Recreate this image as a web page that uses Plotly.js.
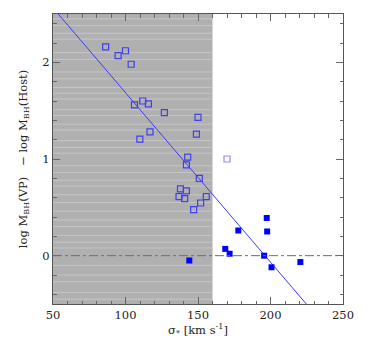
<!DOCTYPE html>
<html>
<head>
<meta charset="utf-8">
<script src="https://cdn.plot.ly/plotly-3.0.1.min.js"></script>
<style>
  html, body { margin: 0; padding: 0; background: #fff; }
  #chart { width: 374px; height: 346px; }
</style>
</head>
<body>
<div id="chart"></div>
<script>
// open squares: sample inside the shaded sigma range
const openSigma = [86.3, 100.0, 94.9, 103.9, 111.9, 115.8, 106.2, 126.8, 116.9, 109.9,
                   150.0, 148.9, 142.9, 142.0, 150.9, 137.9, 142.0, 136.9, 140.8, 155.7,
                   151.8, 147.0];
const openDiff = [2.16, 2.12, 2.07, 1.98, 1.60, 1.57, 1.56, 1.48, 1.28, 1.205,
                  1.43, 1.257, 1.02, 0.94, 0.80, 0.69, 0.67, 0.61, 0.59, 0.61,
                  0.545, 0.477];

// single light open square outside the shading
const lightSigma = [170.0];
const lightDiff = [1.0];

// filled squares
const fillSigma = [144.0, 168.8, 171.8, 177.8, 197.4, 197.7, 195.6, 200.7, 220.6];
const fillDiff = [-0.05, 0.07, 0.02, 0.26, 0.39, 0.25, 0.0, -0.12, -0.066];

// straight-line fit
const fitSigma = [53.6, 224.7];
const fitDiff = [2.5, -0.5];

// shaded sigma range
const shadeRange = [50, 160];

const font = '"DejaVu Serif", "Liberation Serif", serif';

const traces = [
  {
    x: fitSigma, y: fitDiff, type: 'scatter', mode: 'lines',
    line: {color: '#3b3bff', width: 1}, hoverinfo: 'skip'
  },
  {
    x: openSigma, y: openDiff, type: 'scatter', mode: 'markers',
    marker: {symbol: 'square-open', size: 6, color: '#4040e8', line: {width: 1.2}}
  },
  {
    x: lightSigma, y: lightDiff, type: 'scatter', mode: 'markers',
    marker: {symbol: 'square-open', size: 6, color: '#8c8cff', line: {width: 1.2}}
  },
  {
    x: fillSigma, y: fillDiff, type: 'scatter', mode: 'markers',
    marker: {symbol: 'square', size: 6, color: '#0000ff'}
  }
];

// faint horizontal stripes over the shaded band (decoration)
const stripeY = [-0.45, -0.38, -0.27, -0.2, -0.1, 0.08, 0.14, 0.21, 0.3, 0.37, 0.46, 0.55,
                 0.63, 0.72, 0.78, 0.86, 0.93, 1.06, 1.12, 1.19, 1.3, 1.36, 1.45, 1.51,
                 1.62, 1.68, 1.74, 1.83, 1.9, 2.03, 2.1, 2.24, 2.3, 2.38, 2.45];

const shapes = [
  {
    type: 'rect', layer: 'below', xref: 'x', yref: 'y',
    x0: shadeRange[0], x1: shadeRange[1], y0: -0.5, y1: 2.5,
    fillcolor: '#b0b0b0', line: {width: 0}
  }
];
stripeY.forEach(v => shapes.push({
  type: 'line', layer: 'below', xref: 'x', yref: 'y',
  x0: shadeRange[0], x1: shadeRange[1], y0: v, y1: v,
  line: {color: '#c6c6c6', width: 1}
}));
shapes.push({
  type: 'line', xref: 'paper', yref: 'y', x0: 0, x1: 1, y0: 0, y1: 0,
  line: {color: '#6e6e6e', width: 1, dash: 'dashdot'}
});

const axisCommon = {
  showgrid: false, zeroline: false, showline: true, linecolor: '#555', linewidth: 1,
  mirror: 'allticks', ticks: 'inside', ticklen: 7, tickcolor: '#666', tickwidth: 1,
  tickfont: {family: font, size: 11.5, color: '#222'}
};

const layout = {
  width: 374, height: 346,
  margin: {l: 53, r: 31, t: 14, b: 42},
  paper_bgcolor: '#fff', plot_bgcolor: '#fff',
  showlegend: false,
  xaxis: Object.assign({}, axisCommon, {
    range: [50, 250], dtick: 50, tick0: 50,
    minor: {dtick: 10, ticks: 'inside', ticklen: 3.5, tickcolor: '#666'},
    title: {text: 'σ<sub>*</sub> [km s<sup>-1</sup>]', font: {family: font, size: 11.5, color: '#222'}, standoff: 3}
  }),
  yaxis: Object.assign({}, axisCommon, {
    range: [-0.5, 2.5], dtick: 1, tick0: 0,
    minor: {dtick: 0.2, ticks: 'inside', ticklen: 3.5, tickcolor: '#666'},
    title: {text: 'log M<sub>BH</sub>(VP)   \u2212 log M<sub>BH</sub>(Host)', font: {family: font, size: 11.5, color: '#222'}, standoff: 12}
  }),
  shapes: shapes
};

Plotly.newPlot('chart', traces, layout, {staticPlot: true, displayModeBar: false});
</script>
</body>
</html>
